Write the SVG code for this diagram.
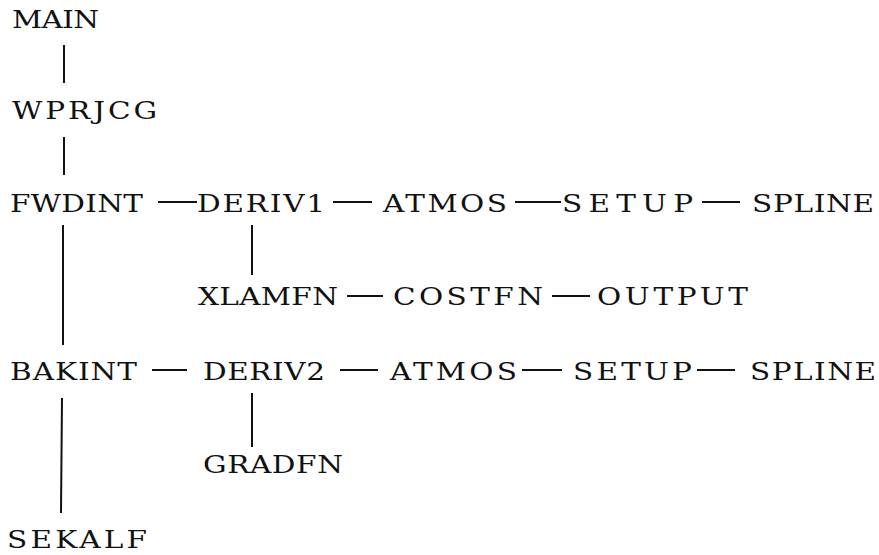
<svg xmlns="http://www.w3.org/2000/svg" width="879" height="555" viewBox="0 0 879 555">
<style>
text{font-family:"DejaVu Serif","Liberation Serif",serif;font-size:25px;fill:#111;}
.c line{stroke:#111;stroke-width:2;}
</style>
<rect width="879" height="555" fill="#fff"/>
<g class="c" id="connectors">
<line x1="64" y1="45" x2="64" y2="83"/>
<line x1="64" y1="137" x2="64" y2="175"/>
<line x1="63" y1="225" x2="63" y2="345"/>
<line x1="62" y1="398" x2="61" y2="513"/>
<line x1="252" y1="225" x2="252" y2="275"/>
<line x1="252" y1="393" x2="252" y2="447"/>
<line x1="158" y1="202" x2="197" y2="202"/>
<line x1="333" y1="202" x2="372" y2="202"/>
<line x1="515" y1="202" x2="561" y2="202"/>
<line x1="702" y1="202" x2="740" y2="202"/>
<line x1="347" y1="296" x2="383" y2="296"/>
<line x1="552" y1="296" x2="590" y2="296"/>
<line x1="152" y1="370" x2="187" y2="370"/>
<line x1="340" y1="370" x2="378" y2="370"/>
<line x1="522" y1="370" x2="562" y2="370"/>
<line x1="697" y1="370" x2="735" y2="370"/>
</g>
<g id="MAIN" transform="translate(12,28) scale(1.18,1)"><text textLength="73.7" lengthAdjust="spacing">MAIN</text></g>
<g id="WPRJCG" transform="translate(12,119) scale(1.18,1)"><text textLength="122.9" lengthAdjust="spacing">WPRJCG</text></g>
<g id="FWDINT" transform="translate(10,212) scale(1.18,1)"><text textLength="112.7" lengthAdjust="spacing">FWDINT</text></g>
<g id="DERIV1" transform="translate(197,212) scale(1.18,1)"><text textLength="108.5" lengthAdjust="spacing">DERIV1</text></g>
<g id="ATMOS1" transform="translate(383,212) scale(1.18,1)"><text textLength="105.1" lengthAdjust="spacing">ATMOS</text></g>
<g id="SETUP1" transform="translate(562,212) scale(1.18,1)"><text textLength="111" lengthAdjust="spacing">SETUP</text></g>
<g id="SPLINE1" transform="translate(752,212) scale(1.18,1)"><text textLength="103.4" lengthAdjust="spacing">SPLINE</text></g>
<g id="XLAMFN" transform="translate(198,305) scale(1.18,1)"><text textLength="118.6" lengthAdjust="spacing">XLAMFN</text></g>
<g id="COSTFN" transform="translate(393,305) scale(1.18,1)"><text textLength="127.1" lengthAdjust="spacing">COSTFN</text></g>
<g id="OUTPUT" transform="translate(597,305) scale(1.18,1)"><text textLength="128" lengthAdjust="spacing">OUTPUT</text></g>
<g id="BAKINT" transform="translate(10,380) scale(1.18,1)"><text textLength="107.6" lengthAdjust="spacing">BAKINT</text></g>
<g id="DERIV2" transform="translate(203,380) scale(1.18,1)"><text textLength="103.4" lengthAdjust="spacing">DERIV2</text></g>
<g id="ATMOS2" transform="translate(390,380) scale(1.18,1)"><text textLength="107.6" lengthAdjust="spacing">ATMOS</text></g>
<g id="SETUP2" transform="translate(573,380) scale(1.18,1)"><text textLength="100.8" lengthAdjust="spacing">SETUP</text></g>
<g id="SPLINE2" transform="translate(750,380) scale(1.18,1)"><text textLength="106.8" lengthAdjust="spacing">SPLINE</text></g>
<g id="GRADFN" transform="translate(203,473) scale(1.18,1)"><text textLength="118.6" lengthAdjust="spacing">GRADFN</text></g>
<g id="SEKALF" transform="translate(7,548) scale(1.18,1)"><text textLength="118.6" lengthAdjust="spacing">SEKALF</text></g>
</svg>
